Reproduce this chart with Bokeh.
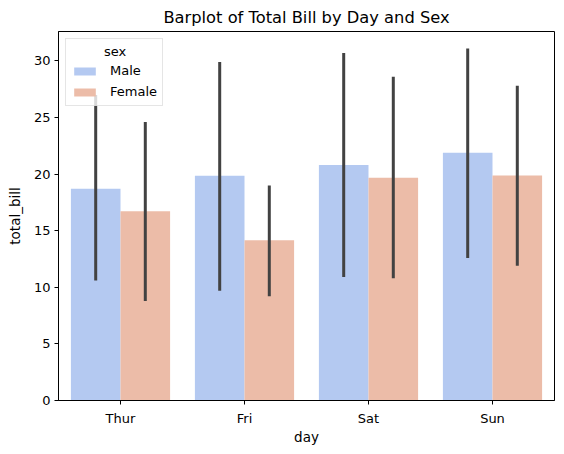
from bokeh.embed import file_html
from bokeh.models import FactorRange, Range1d, Legend, LegendItem
from bokeh.plotting import figure
from bokeh.resources import INLINE
from bokeh.transform import dodge

# Data
days = ["Thur", "Fri", "Sat", "Sun"]
male_mean = [18.71, 19.86, 20.80, 21.89]
female_mean = [16.72, 14.15, 19.68, 19.87]
male_lo = [10.6, 9.7, 10.9, 12.6]
male_hi = [27.0, 29.9, 30.7, 31.1]
female_lo = [8.8, 9.2, 10.8, 11.9]
female_hi = [24.6, 19.0, 28.6, 27.8]

male_color = "#b4c9f1"
female_color = "#ecbca8"
font = "DejaVu Sans"

p = figure(
    x_range=FactorRange(*days, range_padding=0),
    y_range=Range1d(0, 32.6),
    width=556, height=447,
    min_border_left=58, min_border_right=2,
    min_border_top=31, min_border_bottom=46,
    output_backend="svg", toolbar_location=None,
    title="Barplot of Total Bill by Day and Sex",
)

data = dict(day=days, male=male_mean, female=female_mean,
            mlo=male_lo, mhi=male_hi, flo=female_lo, fhi=female_hi)

rm = p.vbar(x=dodge("day", -0.2, range=p.x_range), top="male", width=0.4,
            source=data, color=male_color, line_color=None)
rf = p.vbar(x=dodge("day", 0.2, range=p.x_range), top="female", width=0.4,
            source=data, color=female_color, line_color=None)

# error bars
p.segment(x0=dodge("day", -0.2, range=p.x_range), y0="mlo",
          x1=dodge("day", -0.2, range=p.x_range), y1="mhi",
          source=data, line_color="#424242", line_width=3)
p.segment(x0=dodge("day", 0.2, range=p.x_range), y0="flo",
          x1=dodge("day", 0.2, range=p.x_range), y1="fhi",
          source=data, line_color="#424242", line_width=3)

# non-breaking spaces push the legend title towards the middle of the box
legend = Legend(items=[LegendItem(label="Male", renderers=[rm]),
                       LegendItem(label="Female", renderers=[rf])],
                location="top_left", title="\u00a0" * 8 + "sex")
legend.title_text_font = font
legend.title_text_font_size = "13px"
legend.title_text_font_style = "normal"
legend.title_text_color = "black"
legend.title_standoff = 3
legend.label_text_font = font
legend.label_text_font_size = "13px"
legend.label_text_color = "black"
legend.label_standoff = 12
legend.label_height = 17
legend.border_line_color = "#cccccc"
legend.background_fill_alpha = 0.8
legend.glyph_width = 27
legend.glyph_height = 10
legend.spacing = 4
legend.margin = 7
legend.padding = 5
p.add_layout(legend)

p.title.align = "center"
p.title.text_font = font
p.title.text_font_size = "16.3px"
p.title.text_font_style = "normal"
p.title.text_color = "black"
p.title.standoff = 9

p.xgrid.visible = False
p.ygrid.visible = False
p.outline_line_color = "black"
p.outline_line_width = 1
p.outline_line_alpha = 1

for ax in (p.xaxis[0], p.yaxis[0]):
    ax.axis_line_color = "black"
    ax.major_tick_line_color = "black"
    ax.major_tick_in = 0
    ax.major_tick_out = 4
    ax.minor_tick_line_color = None
    ax.major_label_text_font = font
    ax.major_label_text_font_size = "13px"
    ax.major_label_text_color = "black"
    ax.axis_label_text_font = font
    ax.axis_label_text_font_size = "13.5px"
    ax.axis_label_text_font_style = "normal"
    ax.axis_label_text_color = "black"

p.xaxis.axis_label = "day"
p.xaxis.major_label_standoff = 6
p.xaxis.axis_label_standoff = 0
p.yaxis.axis_label = "total_bill"
p.yaxis.major_label_standoff = 4
p.yaxis.axis_label_standoff = 8
p.yaxis.ticker = [0, 5, 10, 15, 20, 25, 30]

open("out.html", "w").write(file_html(p, INLINE))
